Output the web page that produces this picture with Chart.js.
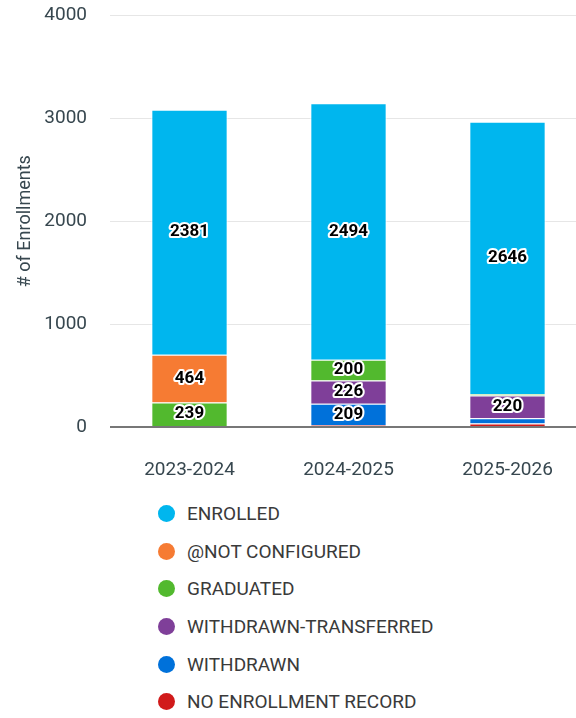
<!DOCTYPE html>
<html>
<head>
<meta charset="utf-8">
<script src="https://cdn.jsdelivr.net/npm/chart.js@4.4.1/dist/chart.umd.min.js"></script>
<style>
    body { margin: 0; background: #fff; font-family: Roboto, sans-serif; }
    .wrap { width: 576px; height: 480px; overflow: hidden; position: relative; }
    .wrap canvas { position: absolute; left: 0; top: -19px; }
    .legend { list-style: none; margin: 15px 0 0 0; padding: 0 0 0 158px; }
    .legend li { height: 37.6px; display: flex; align-items: center; font-size: 19px; color: #3a3a3a; }
    .legend span { width: 17px; height: 17px; border-radius: 50%; margin-right: 12px; display: inline-block; }
</style>
</head>
<body>
<div class="wrap"><canvas id="chart" width="587" height="499"></canvas></div>
<ul class="legend" id="legend"></ul>
<script>
const years = ["2023-2024", "2024-2025", "2025-2026"];
const statuses = ["ENROLLED", "@NOT CONFIGURED", "GRADUATED", "WITHDRAWN-TRANSFERRED", "WITHDRAWN", "NO ENROLLMENT RECORD"];
const colors = ["#00b6ee", "#f67b33", "#52b92e", "#7f3f99", "#0071da", "#d11a1a"];

const enrolled = [2381, 2494, 2646];
const notConfigured = [464, 0, 0];
const graduated = [239, 200, 15];
const withdrawnTransferred = [0, 226, 220];
const withdrawn = [0, 209, 50];
const noRecord = [0, 18, 35];

const yTicks = [0, 1000, 2000, 3000, 4000];

// stack order bottom to top
const series = [noRecord, withdrawn, withdrawnTransferred, graduated, notConfigured, enrolled];
const seriesIdx = [5, 4, 3, 2, 1, 0];

const labelPlugin = {
    id: 'segLabels',
    afterDatasetsDraw(chart) {
        const ctx = chart.ctx;
        ctx.save();
        ctx.font = 'bold 17px Roboto';
        ctx.textAlign = 'center';
        ctx.textBaseline = 'middle';
        ctx.lineJoin = 'round';
        chart.data.datasets.forEach((ds, i) => {
            const meta = chart.getDatasetMeta(i);
            meta.data.forEach((bar, j) => {
                const v = ds.data[j];
                if (v < 150) return;
                const y = (bar.y + bar.base) / 2;
                ctx.strokeStyle = '#fff';
                ctx.lineWidth = 4;
                ctx.strokeText(v, bar.x, y);
                ctx.fillStyle = '#000';
                ctx.fillText(v, bar.x, y);
            });
        });
        ctx.restore();
    }
};

new Chart(document.getElementById('chart'), {
    type: 'bar',
    data: {
        labels: years,
        datasets: series.map((d, k) => ({
            label: statuses[seriesIdx[k]],
            data: d,
            backgroundColor: colors[seriesIdx[k]],
            borderColor: '#fff',
            borderWidth: 1,
            barPercentage: 0.48,
            categoryPercentage: 1
        }))
    },
    options: {
        responsive: false,
        animation: false,
        layout: { padding: { top: 7 } },
        plugins: { legend: { display: false }, tooltip: { enabled: false } },
        scales: {
            x: {
                stacked: true,
                grid: { display: false },
                border: { display: false },
                ticks: { color: '#37474f', font: { size: 19, family: 'Roboto' }, padding: 24 },
                afterFit: s => { s.height = 53; }
            },
            y: {
                stacked: true,
                min: 0,
                max: 4000,
                afterBuildTicks: s => { s.ticks = yTicks.map(v => ({ value: v })); },
                grid: {
                    drawTicks: false,
                    color: c => c.index === 0 ? '#777' : '#e6e6e6',
                    lineWidth: c => c.index === 0 ? 2 : 1
                },
                border: { display: false },
                ticks: {
                    color: '#37474f',
                    font: { size: 19, family: 'Roboto' },
                    padding: 23,
                    callback: v => String(v)
                },
                title: { display: true, text: '# of Enrollments', color: '#37474f', font: { size: 18, family: 'Roboto' }, padding: { top: 15, bottom: 0 } },
                afterFit: s => { s.width = 110; }
            }
        }
    },
    plugins: [labelPlugin]
});

const legend = document.getElementById('legend');
statuses.forEach((name, i) => {
    const li = document.createElement('li');
    li.innerHTML = `<span style="background:${colors[i]}"></span>${name}`;
    legend.appendChild(li);
});
</script>
</body>
</html>
